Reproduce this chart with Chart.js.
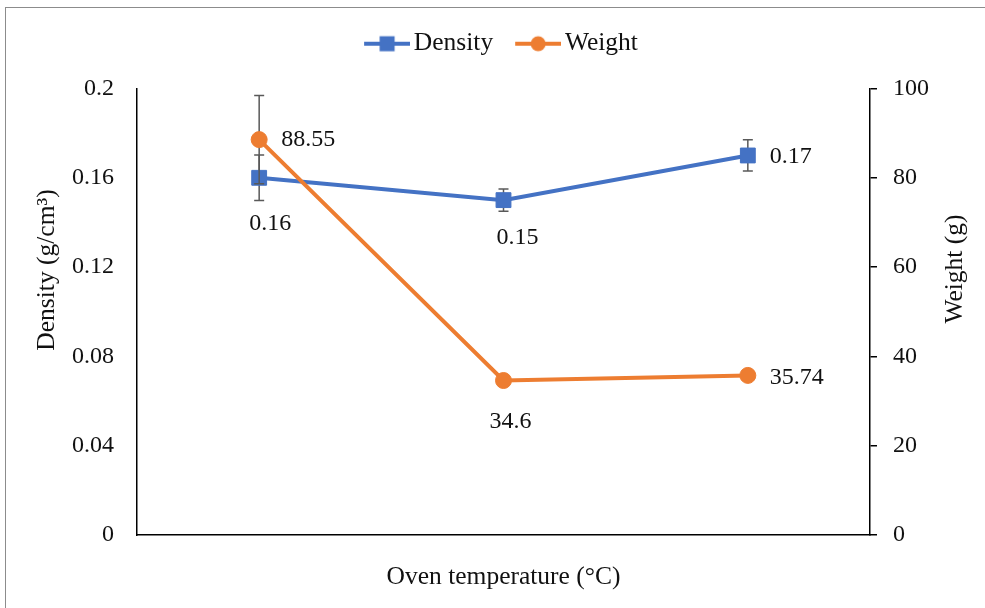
<!DOCTYPE html>
<html>
<head>
<meta charset="utf-8">
<script src="https://cdn.jsdelivr.net/npm/chart.js@4.4.1/dist/chart.umd.min.js"></script>
<style>
  html, body { margin: 0; padding: 0; background: #fff; overflow: hidden; }
  #wrap { position: relative; width: 985px; height: 608px; }
  #wrap canvas { position: absolute; left: 0; top: 0; }
  #frame { position: absolute; left: 5px; top: 7px; width: 1000px; height: 620px; border: 1px solid #8c8c8c; pointer-events: none; }
</style>
</head>
<body>
<div id="wrap">
  <canvas id="chart" width="985" height="608"></canvas>
  <div id="frame"></div>
</div>
<script>
// oven temperatures are not labelled on the original chart
const categories = ["T1", "T2", "T3"];
const density = [0.16, 0.15, 0.17];
const densityErr = [0.0102, 0.005, 0.007];
const weight = [88.55, 34.6, 35.74];
const weightErr = [9.9, 0, 0];
const densityTicks = [0, 0.04, 0.08, 0.12, 0.16, 0.2];
const weightTicks = [0, 20, 40, 60, 80, 100];

const BLUE = "#4472C4";
const ORANGE = "#ED7D31";
const TEXT = "#111";
const SERIF = "'Liberation Serif', 'Times New Roman', serif";
const font = { family: SERIF, size: 24 };
const titleFont = { family: SERIF, size: 25.5 };

// legend sample: line with the marker in the middle
function legendIcon(color, shape) {
  const c = document.createElement("canvas");
  c.width = 48;
  c.height = 20;
  const g = c.getContext("2d");
  g.strokeStyle = color;
  g.lineWidth = 4;
  g.beginPath();
  g.moveTo(2, 10);
  g.lineTo(48, 10);
  g.stroke();
  g.fillStyle = color;
  if (shape === "rect") {
    g.fillRect(25 - 7.5, 10 - 7.5, 15, 15);
  } else {
    g.beginPath();
    g.arc(25, 10, 7.5, 0, Math.PI * 2);
    g.fill();
  }
  return c;
}
const icons = [legendIcon(BLUE, "rect"), legendIcon(ORANGE, "circle")];

const errorBars = {
  id: "errorBars",
  beforeDatasetDraw(chart, args, opts) {
    const ds = chart.data.datasets[args.index];
    if (!ds.errors) return;
    const yScale = chart.scales[ds.yAxisID];
    const ctx = chart.ctx;
    ctx.save();
    ctx.strokeStyle = opts.color;
    ctx.lineWidth = opts.width;
    args.meta.data.forEach((pt, i) => {
      const e = ds.errors[i];
      if (!e) return;
      const top = yScale.getPixelForValue(ds.data[i] + e);
      const bot = yScale.getPixelForValue(ds.data[i] - e);
      ctx.beginPath();
      ctx.moveTo(pt.x, top);
      ctx.lineTo(pt.x, bot);
      ctx.moveTo(pt.x - opts.cap, top);
      ctx.lineTo(pt.x + opts.cap, top);
      ctx.moveTo(pt.x - opts.cap, bot);
      ctx.lineTo(pt.x + opts.cap, bot);
      ctx.stroke();
    });
    ctx.restore();
  }
};

const pointLabels = {
  id: "pointLabels",
  afterDatasetsDraw(chart, args, opts) {
    const ctx = chart.ctx;
    ctx.save();
    ctx.font = opts.size + "px " + SERIF;
    ctx.fillStyle = opts.color;
    ctx.textBaseline = "middle";
    chart.data.datasets.forEach((ds, di) => {
      const meta = chart.getDatasetMeta(di);
      meta.data.forEach((pt, i) => {
        const [dx, dy, align] = opts.placement[di][i];
        ctx.textAlign = align;
        ctx.fillText(String(ds.data[i]), pt.x + dx, pt.y + dy);
      });
    });
    ctx.restore();
  }
};

// y titles are drawn by hand: the right one reads bottom-to-top like the left
const sideTitles = {
  id: "sideTitles",
  afterDraw(chart, args, opts) {
    const ctx = chart.ctx;
    ctx.save();
    ctx.font = opts.size + "px " + SERIF;
    ctx.fillStyle = opts.color;
    ctx.textAlign = "center";
    ctx.textBaseline = "middle";
    opts.items.forEach(t => {
      ctx.save();
      ctx.translate(t.x, t.y);
      ctx.rotate(-Math.PI / 2);
      ctx.fillText(t.text, 0, 0);
      ctx.restore();
    });
    ctx.restore();
  }
};

// extra room between the legend and the plot, and centre it over the plot
const legendGap = {
  id: "legendGap",
  beforeLayout(chart, args, opts) {
    const leg = chart.legend;
    if (!leg || leg._gapPatched) return;
    const fit = leg.fit.bind(leg);
    const draw = leg.draw.bind(leg);
    leg.fit = function () {
      fit();
      this.height += opts.extra;
    };
    leg.draw = function () {
      const ctx = this.ctx;
      ctx.save();
      ctx.translate(opts.shiftX, 0);
      draw();
      ctx.restore();
    };
    leg._gapPatched = true;
  }
};

new Chart(document.getElementById("chart"), {
  type: "line",
  data: {
    labels: categories,
    datasets: [
      {
        label: "Density",
        data: density,
        errors: densityErr,
        yAxisID: "y",
        order: 1,
        borderColor: BLUE,
        backgroundColor: BLUE,
        borderWidth: 4,
        pointStyle: "rect",
        pointRadius: 10.5,
        pointHoverRadius: 10.5,
        pointBorderWidth: 1,
        pointBorderColor: BLUE,
        tension: 0
      },
      {
        label: "Weight",
        data: weight,
        errors: weightErr,
        yAxisID: "y1",
        order: 0,
        borderColor: ORANGE,
        backgroundColor: ORANGE,
        borderWidth: 4,
        pointStyle: "circle",
        pointRadius: 8,
        pointHoverRadius: 8,
        pointBorderWidth: 1,
        pointBorderColor: ORANGE,
        tension: 0
      }
    ]
  },
  options: {
    responsive: false,
    animation: false,
    events: [],
    layout: { padding: { top: 2, left: 0, right: 0, bottom: 0 } },
    scales: {
      x: {
        type: "category",
        offset: true,
        grid: { display: false },
        border: { display: true, color: "#000", width: 1.5 },
        ticks: { display: false },
        title: {
          display: true,
          text: "Oven temperature (°C)",
          font: titleFont,
          color: TEXT,
          padding: { top: 0, bottom: 15 }
        },
        afterFit: s => { s.height = 73; }
      },
      y: {
        position: "left",
        min: 0,
        max: 0.2,
        grid: { display: false, drawTicks: false },
        border: { display: true, color: "#000", width: 1.5 },
        ticks: { padding: 23, font: font, color: TEXT, callback: v => String(v) },
        afterBuildTicks: s => { s.ticks = densityTicks.map(v => ({ value: v })); },
        afterFit: s => { s.width = 137; }
      },
      y1: {
        position: "right",
        min: 0,
        max: 100,
        grid: { display: true, drawOnChartArea: false, drawTicks: true, tickLength: 7, color: "#000", lineWidth: 1.5 },
        border: { display: true, color: "#000", width: 1.5 },
        ticks: { padding: 16, font: font, color: TEXT, callback: v => String(v) },
        afterBuildTicks: s => { s.ticks = weightTicks.map(v => ({ value: v })); },
        afterFit: s => { s.width = 115; }
      }
    },
    plugins: {
      legend: {
        position: "top",
        labels: {
          usePointStyle: true,
          pointStyleWidth: 30,
          padding: 29,
          font: titleFont,
          color: TEXT,
          sort: (a, b) => a.datasetIndex - b.datasetIndex,
          generateLabels(chart) {
            const items = Chart.defaults.plugins.legend.labels.generateLabels(chart);
            items.forEach(it => { it.pointStyle = icons[it.datasetIndex]; });
            return items;
          }
        }
      },
      tooltip: { enabled: false },
      legendGap: { extra: 22, shiftX: 12 },
      errorBars: { color: "#595959", width: 1.5, cap: 5 },
      pointLabels: {
        size: 24,
        color: TEXT,
        placement: [
          [[11, 46, "center"], [14, 38, "center"], [22, 1, "left"]],
          [[22, 0, "left"], [7, 41, "center"], [22, 2, "left"]]
        ]
      },
      sideTitles: {
        size: 25.5,
        color: TEXT,
        items: [
          { text: "Density (g/cm³)", x: 47, y: 270 },
          { text: "Weight (g)", x: 955, y: 269 }
        ]
      }
    }
  },
  plugins: [legendGap, errorBars, pointLabels, sideTitles]
});
</script>
</body>
</html>
